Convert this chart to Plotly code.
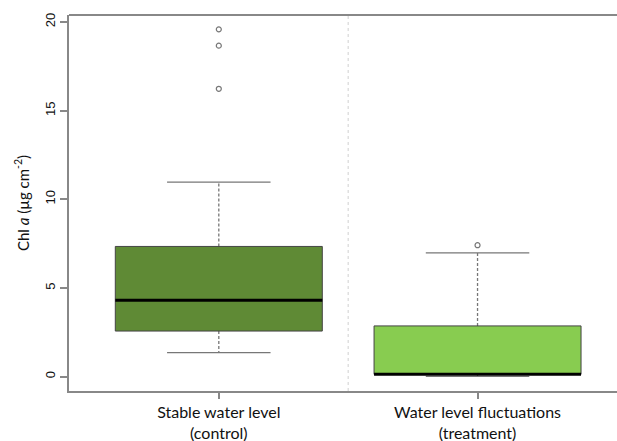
import plotly.graph_objects as go

categories = ["Stable water level<br>(control)", "Water level fluctuations<br>(treatment)"]
positions = [1, 2]
q1 = [2.57, 0.13]
median = [4.31, 0.13]
q3 = [7.34, 2.86]
lower_whisker = [1.35, 0.02]
upper_whisker = [10.97, 6.98]
outliers = [[19.58, 18.66, 16.23], [7.41]]
fill_colors = ["#5F8A35", "#88CC50"]

box_half = 0.4
cap_half = 0.2

fig = go.Figure()

for i, c in enumerate(positions):
    # whiskers (dashed)
    fig.add_trace(go.Scatter(
        x=[c, c, None, c, c],
        y=[q3[i], upper_whisker[i], None, q1[i], lower_whisker[i]],
        mode="lines", line=dict(color="#777777", width=1.3, dash="3px,2px"),
        hoverinfo="skip", showlegend=False))
    # caps
    fig.add_trace(go.Scatter(
        x=[c - cap_half, c + cap_half, None, c - cap_half, c + cap_half],
        y=[upper_whisker[i], upper_whisker[i], None, lower_whisker[i], lower_whisker[i]],
        mode="lines", line=dict(color="#777777", width=1.3),
        hoverinfo="skip", showlegend=False))
    # box
    fig.add_trace(go.Scatter(
        x=[c - box_half, c + box_half, c + box_half, c - box_half, c - box_half],
        y=[q1[i], q1[i], q3[i], q3[i], q1[i]],
        mode="lines", fill="toself", fillcolor=fill_colors[i],
        line=dict(color="#444444", width=1),
        hoverinfo="skip", showlegend=False))
    # median
    fig.add_trace(go.Scatter(
        x=[c - box_half, c + box_half], y=[median[i], median[i]],
        mode="lines", line=dict(color="#000000", width=3),
        hoverinfo="skip", showlegend=False))
    # outliers
    fig.add_trace(go.Scatter(
        x=[c] * len(outliers[i]), y=outliers[i], mode="markers",
        marker=dict(symbol="circle-open", size=5, color="#777777", line=dict(width=1.2)),
        hoverinfo="skip", showlegend=False))

# separator between groups
sep = (positions[0] + positions[1]) / 2
fig.add_shape(type="line", xref="x", yref="paper", x0=sep, x1=sep, y0=0, y1=1,
              line=dict(color="#D0D0D0", width=1, dash="dot"), layer="below")
# top frame line
fig.add_shape(type="line", xref="paper", yref="paper", x0=0, x1=1, y0=1, y1=1,
              line=dict(color="#888888", width=2))

fig.update_layout(
    width=617, height=441,
    margin=dict(l=69, r=0, t=15, b=50),
    paper_bgcolor="white", plot_bgcolor="white",
    xaxis=dict(range=[0.421, 2.539], tickvals=positions, ticktext=categories,
               showgrid=False, zeroline=False, showline=True, linecolor="#888888", linewidth=2,
               ticks="outside", ticklen=6, tickcolor="#888888", tickwidth=1.5,
               tickfont=dict(family="Lato", size=16, color="#111111")),
    yaxis=dict(range=[-0.81, 20.39], tickvals=[0, 5, 10, 15, 20],
               showgrid=False, zeroline=False, showline=True, linecolor="#888888", linewidth=2,
               ticks="outside", ticklen=7, tickcolor="#888888", tickwidth=1.5,
               tickangle=-90,
               tickfont=dict(family="Liberation Sans", size=13, color="#111111"),
               title=dict(text="Chl <i>a</i> (µg cm<sup>-2</sup>)",
                          font=dict(family="Lato", size=15, color="#111111"), standoff=10)),
)

fig.write_html("out.html")
